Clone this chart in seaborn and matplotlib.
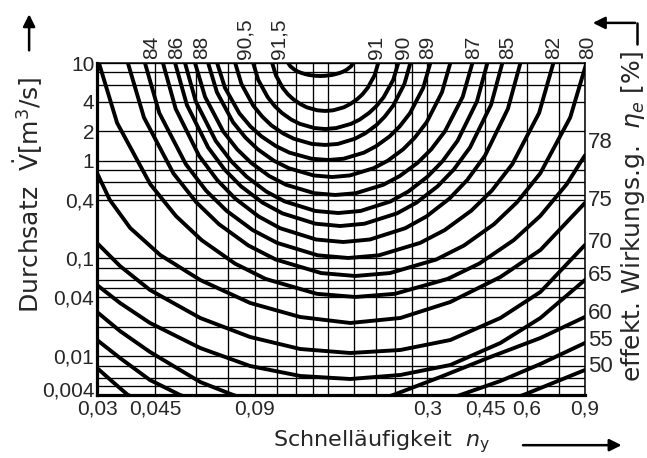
import pandas as pd
import matplotlib
matplotlib.use('Agg')
import matplotlib.pyplot as plt
import seaborn as sns
from matplotlib.ticker import FixedLocator, FixedFormatter, NullFormatter
from matplotlib.transforms import ScaledTranslation

sns.set_style('white')
plt.rcParams['font.family'] = ['DejaVu Sans']

# efficiency curves, n_y (x) and V (y)
c915_n = [0.1137, 0.1155, 0.1189, 0.1216, 0.1244, 0.1281, 0.1315, 0.1375, 0.1422,
          0.1472, 0.1542, 0.1584, 0.1633, 0.1671, 0.1710, 0.1762, 0.1790]
c915_v = [10, 9.25, 8.54, 8.18, 7.94, 7.70, 7.54, 7.40, 7.36, 7.40, 7.54, 7.70, 7.94,
          8.18, 8.54, 9.25, 10]
c91_n = [0.1017, 0.1044, 0.1095, 0.1136, 0.1179, 0.1238, 0.1294, 0.1393, 0.1472,
         0.1556, 0.1676, 0.1752, 0.1838, 0.1907, 0.1979, 0.2077, 0.2131]
c91_v = [10, 7.48, 5.56, 4.77, 4.25, 3.80, 3.52, 3.28, 3.23, 3.28, 3.52, 3.80, 4.25,
         4.77, 5.56, 7.48, 10]
c905_n = [0.0891, 0.0923, 0.0986, 0.1036, 0.1089, 0.1163, 0.1235, 0.1366, 0.1472,
          0.1590, 0.1760, 0.1870, 0.1998, 0.2103, 0.2213, 0.2365, 0.2450]
c905_v = [10, 6.71, 4.47, 3.62, 3.08, 2.63, 2.38, 2.16, 2.11, 2.16, 2.38, 2.63, 3.08,
          3.62, 4.47, 6.71, 10]
c90_n = [0.0786, 0.0821, 0.0891, 0.0949, 0.1010, 0.1096, 0.1182, 0.1340, 0.1472,
         0.1609, 0.1812, 0.1946, 0.2102, 0.2230, 0.2366, 0.2557, 0.2665]
c90_v = [10, 6.10, 3.67, 2.83, 2.31, 1.908, 1.68, 1.486, 1.45, 1.486, 1.68, 1.908,
         2.31, 2.83, 3.67, 6.10, 10]
c89_n = [0.0693, 0.0732, 0.0809, 0.0874, 0.0945, 0.1044, 0.1147, 0.1338, 0.1504,
         0.1674, 0.1929, 0.2101, 0.2305, 0.2474, 0.2658, 0.2915, 0.3064]
c89_v = [10, 5.57, 3.06, 2.244, 1.77, 1.411, 1.21, 1.048, 1.017, 1.048, 1.21, 1.411,
         1.77, 2.244, 3.06, 5.57, 10]
c88_n = [0.0651, 0.0692, 0.0774, 0.0844, 0.0920, 0.1029, 0.1142, 0.1358, 0.1546,
         0.1749, 0.2063, 0.2277, 0.2534, 0.2751, 0.2987, 0.3323, 0.3522]
c88_v = [10, 5.02, 2.48, 1.727, 1.308, 1.0, 0.838, 0.707, 0.681, 0.707, 0.838, 1.0,
         1.308, 1.727, 2.48, 5.02, 10]
c87_n = [0.0594, 0.0637, 0.0723, 0.0797, 0.0879, 0.0997, 0.1121, 0.1364, 0.1579,
         0.1822, 0.2207, 0.2474, 0.2802, 0.3083, 0.3391, 0.3840, 0.4108]
c87_v = [10, 4.51, 1.994, 1.308, 0.950, 0.696, 0.567, 0.465, 0.446, 0.465, 0.567,
         0.696, 0.950, 1.308, 1.994, 4.51, 10]
c86_n = [0.0554, 0.0597, 0.0686, 0.0764, 0.0850, 0.0976, 0.1110, 0.1374, 0.1612,
         0.1884, 0.2321, 0.2628, 0.3008, 0.3338, 0.3703, 0.4241, 0.4560]
c86_v = [10, 4.05, 1.598, 0.991, 0.689, 0.484, 0.383, 0.306, 0.2915, 0.306, 0.383,
         0.484, 0.689, 0.991, 1.598, 4.05, 10]
c85_n = [0.0517, 0.0561, 0.0651, 0.0730, 0.0819, 0.0952, 0.1093, 0.1376, 0.1635,
         0.1937, 0.2428, 0.2780, 0.3221, 0.3607, 0.4040, 0.4679, 0.5061]
c85_v = [10, 3.74, 1.365, 0.811, 0.546, 0.3716, 0.289, 0.2266, 0.2146, 0.2266, 0.289,
         0.3716, 0.546, 0.811, 1.365, 3.74, 10]
c84_n = [0.0475, 0.0519, 0.0611, 0.0693, 0.0786, 0.0925, 0.1075, 0.1382, 0.1670,
         0.2009, 0.2573, 0.2983, 0.3502, 0.3963, 0.4483, 0.5262, 0.5741]
c84_v = [10, 3.40, 1.123, 0.635, 0.410, 0.2691, 0.2038, 0.1561, 0.1472, 0.1561,
         0.2038, 0.2691, 0.410, 0.635, 1.123, 3.40, 10]
c82_n = [0.0419, 0.0463, 0.0557, 0.0641, 0.0739, 0.0888, 0.1053, 0.1397, 0.1729,
         0.2142, 0.2853, 0.3386, 0.4079, 0.4707, 0.5427, 0.6540, 0.7225]
c82_v = [10, 3.08, 0.923, 0.4955, 0.3085, 0.1949, 0.1441, 0.1076, 0.1010, 0.1076,
         0.1441, 0.1949, 0.3085, 0.4955, 0.923, 3.08, 10]
c80_n = [0.0372, 0.0416, 0.0511, 0.0599, 0.0702, 0.0862, 0.1043, 0.1431, 0.1815,
         0.2312, 0.3192, 0.3873, 0.4775, 0.5609, 0.6591, 0.8125, 0.9097]
c80_v = [10, 2.77, 0.741, 0.376, 0.2239, 0.1355, 0.0974, 0.0708, 0.0661, 0.0708,
         0.0974, 0.1355, 0.2239, 0.376, 0.741, 2.77, 10]
c78_n = [0.0304, 0.0345, 0.0435, 0.0520, 0.0622, 0.0784, 0.0971, 0.1389, 0.1815,
         0.2393, 0.3457, 0.4315, 0.5480, 0.6591, 0.7923, 0.9]
c78_v = [10, 2.437, 0.5733, 0.2716, 0.1539, 0.0887, 0.0617, 0.0434, 0.0403, 0.0434,
         0.0617, 0.0887, 0.1539, 0.2716, 0.5733, 1.133]
c75_n = [0.03, 0.0328, 0.0378, 0.0466, 0.0616, 0.0872, 0.1237, 0.1753, 0.2485, 0.3522,
         0.4993, 0.66, 0.9]
c75_v = [0.748, 0.396, 0.2048, 0.1083, 0.0601, 0.0350, 0.02513, 0.02183, 0.02455,
         0.0358, 0.0645, 0.1219, 0.369]
c70_n = [0.03, 0.0352, 0.0434, 0.0616, 0.0872, 0.1237, 0.1753, 0.2485, 0.3522, 0.4993,
         0.66, 0.9]
c70_v = [0.1438, 0.0836, 0.0475, 0.02455, 0.01569, 0.01182, 0.01076, 0.01155, 0.01462,
         0.02455, 0.0453, 0.1371]
c65_n = [0.03, 0.0352, 0.0434, 0.0616, 0.0872, 0.1237, 0.1753, 0.2485, 0.3522, 0.4993,
         0.66, 0.9]
c65_v = [0.0534, 0.0350, 0.02183, 0.0121, 0.00792, 0.00626, 0.00583, 0.00641, 0.00811,
         0.01362, 0.02455, 0.0601]
c60_n = [0.03, 0.0352, 0.0434, 0.0616, 0.0775, 0.1373, 0.2366, 0.3285, 0.4656, 0.66, 0.9]
c60_v = [0.02828, 0.01806, 0.01102, 0.00543, 0.004, 0.00222, 0.004, 0.00611, 0.00979,
         0.01532, 0.02513]
c55_n = [0.03, 0.0352, 0.0434, 0.0535, 0.1422, 0.3777, 0.4993, 0.66, 0.9]
c55_v = [0.01462, 0.00956, 0.00569, 0.004, 0.00138, 0.004, 0.00556, 0.0083, 0.01362]
c50_n = [0.03, 0.0335, 0.0372, 0.1422, 0.5861, 0.7328, 0.9]
c50_v = [0.00755, 0.00543, 0.004, 0.00086, 0.004, 0.00543, 0.0072]

curve_names = ['91,5', '91', '90,5', '90', '89', '88', '87', '86', '85', '84',
               '82', '80', '78', '75', '70', '65', '60', '55', '50']
curve_n = [c915_n, c91_n, c905_n, c90_n, c89_n, c88_n, c87_n, c86_n, c85_n, c84_n,
           c82_n, c80_n, c78_n, c75_n, c70_n, c65_n, c60_n, c55_n, c50_n]
curve_v = [c915_v, c91_v, c905_v, c90_v, c89_v, c88_v, c87_v, c86_v, c85_v, c84_v,
           c82_v, c80_v, c78_v, c75_v, c70_v, c65_v, c60_v, c55_v, c50_v]

# curve labels
top_left_labels = ['84', '86', '88', '90,5', '91,5']
top_left_pos = [0.044, 0.0524, 0.0624, 0.0843, 0.107]
top_right_labels = ['91', '90', '89', '87', '85', '82', '80']
top_right_pos = [0.21, 0.254, 0.30, 0.414, 0.524, 0.723, 0.92]
right_labels = ['78', '75', '70', '65', '60', '55', '50']
right_pos = [1.52, 0.396, 0.147, 0.0676, 0.0276, 0.0146, 0.0078]

# axes ticks and grid
x_ticks = [0.03, 0.045, 0.09, 0.3, 0.45, 0.6, 0.9]
x_ticklabels = ['0,03', '0,045', '0,09', '0,3', '0,45', '0,6', '0,9']
x_grid = [0.06, 0.075, 0.105, 0.12, 0.135, 0.15, 0.18, 0.21, 0.24, 0.27, 0.75]
y_ticks = [0.004, 0.01, 0.04, 0.1, 0.4, 1, 2, 4, 10]
y_ticklabels = ['0,004', '0,01', '0,04', '0,1', '0,4', '1', '2', '4', '10']
y_grid = [8, 6, 0.8, 0.6, 0.45, 0.08, 0.06, 0.05, 0.02, 0.008, 0.006, 0.005]

rows = []
for eta, ns, vs in zip(curve_names, curve_n, curve_v):
    for n, v in zip(ns, vs):
        rows.append({'eta': eta, 'n': n, 'V': v})
df = pd.DataFrame(rows)

tickfont = ['Liberation Sans', 'DejaVu Sans']

fig = plt.figure(figsize=(6.47, 4.58), dpi=100)
ax = fig.add_axes([0.150, 0.1376, 0.754, 0.7248])

sns.lineplot(data=df, x='n', y='V', units='eta', estimator=None, sort=False,
             color='black', linewidth=2.8, ax=ax, legend=False)

ax.set_xscale('log')
ax.set_yscale('log')
ax.set_xlim(0.03, 0.9)
ax.set_ylim(0.004, 10)

ax.xaxis.set_major_locator(FixedLocator(x_ticks))
ax.xaxis.set_major_formatter(FixedFormatter(x_ticklabels))
ax.xaxis.set_minor_locator(FixedLocator(x_grid))
ax.xaxis.set_minor_formatter(NullFormatter())
ax.yaxis.set_major_locator(FixedLocator(y_ticks))
ax.yaxis.set_major_formatter(FixedFormatter(y_ticklabels))
ax.yaxis.set_minor_locator(FixedLocator(y_grid))
ax.yaxis.set_minor_formatter(NullFormatter())
ax.tick_params(which='both', length=0, pad=2, labelsize=15)
ax.tick_params(axis='x', which='major', pad=3)
for lab in ax.get_xticklabels() + ax.get_yticklabels():
    lab.set_family(tickfont)
# lift the lowest V label a little so it clears the first n_y label
low = ax.yaxis.get_major_ticks()[0].label1
low.set_transform(low.get_transform() + ScaledTranslation(0, 4 / 72, fig.dpi_scale_trans))
ax.grid(which='both', color='black', linewidth=0.95)
ax.set_xlabel('')
ax.set_ylabel('')

for side in ['left', 'bottom']:
    ax.spines[side].set_linewidth(2.3)
for side in ['top', 'right']:
    ax.spines[side].set_linewidth(1.1)
for s in ax.spines.values():
    s.set_color('black')

xform = ax.get_xaxis_transform()
for lab, x in zip(top_left_labels + top_right_labels, top_left_pos + top_right_pos):
    ax.text(x, 1.012, lab, transform=xform, rotation=90, ha='center', va='bottom',
            fontsize=15, family=tickfont)
yform = ax.get_yaxis_transform()
for lab, y in zip(right_labels, right_pos):
    ax.text(1.006, y, lab, transform=yform, ha='left', va='center',
            fontsize=16, family=tickfont)

# axis titles with their arrows
fig.text(0.044, 0.574, r'Durchsatz  $\dot{\mathregular{V}}$[m$^3$/s]', rotation=90,
         ha='center', va='center', fontsize=18)
fig.text(0.978, 0.528, r'effekt. Wirkungs.g.  $\eta_e$ [%]', rotation=90,
         ha='center', va='center', fontsize=18)
fig.text(0.59, 0.035, r'Schnelläufigkeit  $n_\mathregular{y}$', ha='center', va='center',
         fontsize=16)

arrow = dict(arrowstyle='-|>', color='black', lw=1.8, mutation_scale=18)
fig.add_artist(matplotlib.patches.FancyArrowPatch((0.045, 0.884), (0.045, 0.975),
               transform=fig.transFigure, **arrow))
fig.add_artist(matplotlib.patches.FancyArrowPatch((0.804, 0.028), (0.965, 0.028),
               transform=fig.transFigure, **arrow))
fig.add_artist(matplotlib.lines.Line2D([0.985, 0.985], [0.903, 0.950],
               transform=fig.transFigure, color='black', lw=1.8))
fig.add_artist(matplotlib.patches.FancyArrowPatch((0.986, 0.950), (0.912, 0.950),
               transform=fig.transFigure, **arrow))

fig.savefig('out.png', dpi=100)
